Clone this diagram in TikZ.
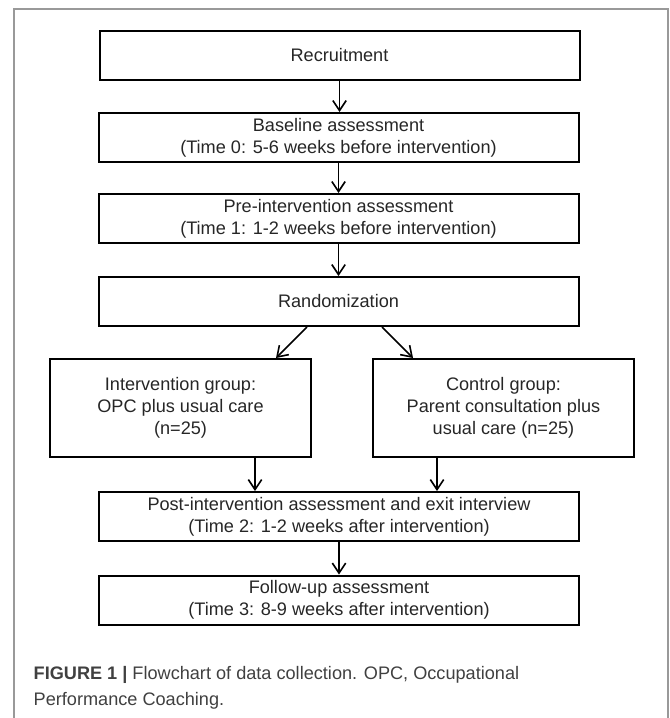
\documentclass[tikz,border=0pt]{standalone}
\usepackage{fontspec}
\setmainfont{Liberation Sans}
\usetikzlibrary{arrows.meta,calc}

\begin{document}
\begin{tikzpicture}[
    x=0.75pt, y=-0.75pt,
    every node/.style={font=\fontsize{13.6}{16.5}\selectfont, text=black!85},
    stage/.style={draw, line width=1.5pt, minimum width=360pt, minimum height=36.75pt, align=center, inner sep=0pt},
    group/.style={draw, line width=1.5pt, minimum width=195.75pt, minimum height=73.5pt, align=center, inner sep=0pt},
    arr/.style={-{Straight Barb[length=7.5pt,width=10pt]}, line width=1.2pt}
  ]
    \useasboundingbox (0,0) rectangle (669,718);

    % outer frame
    \draw[black!40, line width=0.9pt] (14,720) |- (668,9) -- (668,720);

    \node[stage] (recruit) at (339.5,55.5) {Recruitment};
    \node[stage] (baseline) at (338.5,137.5) {Baseline assessment\\(Time 0: 5-6 weeks before intervention)};
    \node[stage] (pre) at (338.5,218.5) {Pre-intervention assessment\\(Time 1: 1-2 weeks before intervention)};
    \node[stage] (random) at (338.5,301.5) {Randomization};

    \node[group] (interv) at (180.5,408) {Intervention group:\\OPC plus usual care\\(n=25)};
    \node[group] (control) at (503.5,408) {Control group:\\Parent consultation plus\\usual care (n=25)};

    \node[stage] (post) at (339,516.5) {Post-intervention assessment and exit interview\\(Time 2: 1-2 weeks after intervention)};
    \node[stage] (follow) at (339,600) {Follow-up assessment\\(Time 3: 8-9 weeks after intervention)};

    \coordinate (randl) at ($(random.south)+(-31.5,0)$);
    \coordinate (randr) at ($(random.south)+(43.5,0)$);
    \coordinate (intin) at ($(interv.north)+(95.5,0)$);
    \coordinate (ctlin) at ($(control.north)+(-90.5,0)$);
    \coordinate (intout) at ($(interv.south)+(74.5,0)$);
    \coordinate (ctlout) at ($(control.south)+(-66.5,0)$);

    \draw[arr] (recruit.south) -- (recruit.south |- baseline.north);
    \draw[arr] (baseline.south) -- (baseline.south |- pre.north);
    \draw[arr] (pre.south) -- (pre.south |- random.north);
    \draw[arr] (randl) -- (intin);
    \draw[arr] (randr) -- (ctlin);
    \draw[arr] (intout) -- (intout |- post.north);
    \draw[arr] (ctlout) -- (ctlout |- post.north);
    \draw[arr] (post.south) -- (post.south |- follow.north);

    \node[anchor=base west, text=black!75] (caption) at (29,679) {\textbf{FIGURE 1 |} Flowchart of data collection. OPC, Occupational};
    \node[anchor=base west, text=black!75] (caption2) at (29,705) {Performance Coaching.};
\end{tikzpicture}
\end{document}
